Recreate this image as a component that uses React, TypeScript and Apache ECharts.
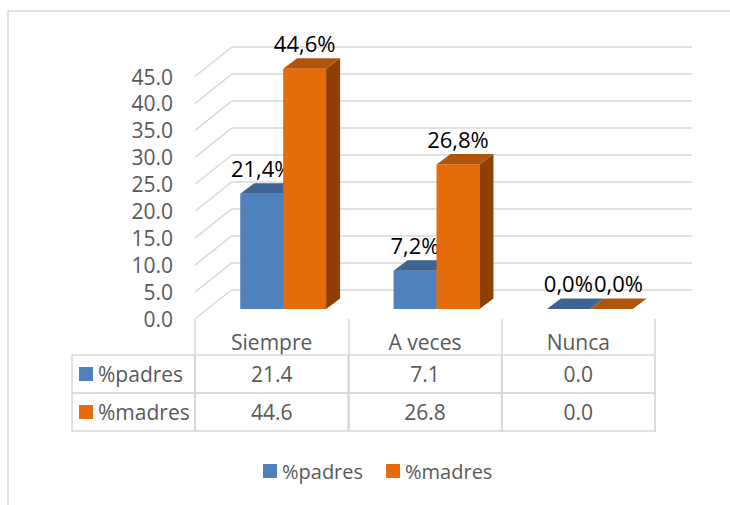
import React, { useEffect, useRef } from "react";
import * as echarts from "echarts";

const categories = ["Siempre", "A veces", "Nunca"];
const seriesNames = ["%padres", "%madres"];
const padres = [21.4, 7.1, 0.0];
const madres = [44.6, 26.8, 0.0];
const padresLabels = ["21,4%", "7,2%", "0,0%"];
const madresLabels = ["44,6%", "26,8%", "0,0%"];
const yTicks = [0, 5, 10, 15, 20, 25, 30, 35, 40, 45];

const FONT = "'Open Sans', 'Noto Sans', sans-serif";
const GRID_COLOR = "#D9D9D9";
const TEXT_GRAY = "#595959";
const BLUE = { front: "#4F81BD", top: "#3C6391", side: "#2F5078" };
const ORANGE = { front: "#E46C0A", top: "#B35509", side: "#8F3F04" };
const LABEL_SIZE = 22;

// 3D projection constants (back wall -> front plane)
const DX = 37;
const DY = 29.5;
// bar front face relative to back wall
const BX = -25.5;
const BY = 19.5;
// bar depth
const DDX = 14;
const DDY = 10.5;
const BAR_FRAC = 0.28;
const HEADER_H = 36;
const ROW_H = 38;
const ROW_HEAD_W = 123;

function textWidth(t: string): number {
  try {
    const T: any = (echarts.graphic as any).Text;
    const el = new T({ style: { text: t, fontSize: LABEL_SIZE, fontFamily: FONT } });
    return el.getBoundingRect().width;
  } catch (e) {
    return t.length * 12;
  }
}

function barRender(
  sIdx: number,
  labels: string[],
  col: any,
  prevValues: number[] | null,
  prevLabels: string[] | null
) {
  return (params: any, api: any) => {
    const i = api.value(0);
    const v = api.value(1);
    const base = api.coord([i, 0]);
    const top = api.coord([i, v]);
    const band = api.size([1, 0])[0];
    const bw = band * BAR_FRAC;
    const x0 = base[0] + (sIdx === 0 ? -bw : 0) + BX;
    const y0 = base[1] + BY;
    const yt = top[1] + BY;
    let lx = x0 + bw / 2;
    const ly = yt - 26;
    if (prevValues && prevLabels) {
      // avoid overlapping the neighbouring series' label
      const pyt = api.coord([i, prevValues[i]])[1] + BY - 26;
      const pcx = base[0] - bw + BX + bw / 2;
      if (Math.abs(pyt - ly) < LABEL_SIZE) {
        const minC = pcx + (textWidth(prevLabels[i]) + textWidth(labels[i])) / 2 + 1;
        if (lx < minC) lx = minC;
      }
    }
    const children: any[] = [
      {
        type: "rect",
        shape: { x: x0, y: yt, width: bw, height: Math.max(0, y0 - yt) },
        style: { fill: col.front },
      },
      {
        type: "polygon",
        shape: {
          points: [
            [x0 + bw, yt],
            [x0 + bw + DDX, yt - DDY],
            [x0 + bw + DDX, y0 - DDY],
            [x0 + bw, y0],
          ],
        },
        style: { fill: col.side },
      },
      {
        type: "polygon",
        shape: {
          points: [
            [x0, yt],
            [x0 + bw, yt],
            [x0 + bw + DDX, yt - DDY],
            [x0 + DDX, yt - DDY],
          ],
        },
        style: { fill: col.top },
      },
      {
        type: "text",
        x: lx,
        y: ly,
        style: {
          text: labels[i],
          fill: "#000",
          fontSize: LABEL_SIZE,
          fontFamily: FONT,
          align: "center",
          verticalAlign: "middle",
        },
      },
    ];
    return { type: "group", children };
  };
}

export default function App() {
  const ref = useRef<HTMLDivElement>(null);
  useEffect(() => {
    if (!ref.current) return;
    const chart = echarts.init(ref.current, null, { renderer: "svg" });
    const tableData: any[] = [];
    [padres, madres].forEach((arr, r) => {
      arr.forEach((v, c) => tableData.push([c, v, r]));
    });
    const option: any = {
      animation: false,
      backgroundColor: "#fff",
      graphic: [
        {
          type: "rect",
          shape: { x: 8, y: 11, width: 780, height: 560 },
          style: { fill: "none", stroke: GRID_COLOR, lineWidth: 1.5 },
          silent: true,
        },
      ],
      legend: {
        data: seriesNames,
        left: 263,
        top: 461,
        padding: 0,
        icon: "rect",
        itemWidth: 14,
        itemHeight: 14,
        itemGap: 23,
        textStyle: { fontSize: 20, color: TEXT_GRAY, fontFamily: FONT },
      },
      grid: [
        { left: 232, top: 47, width: 460, height: 242.5 },
        { left: 232 - DX, top: 47 + DY, width: 460, height: 242.5 },
      ],
      xAxis: [
        {
          type: "category",
          gridIndex: 0,
          data: categories,
          show: false,
        },
        {
          type: "category",
          gridIndex: 1,
          data: categories,
          axisLine: { show: false },
          axisTick: {
            show: true,
            length: HEADER_H + 2 * ROW_H + 1,
            lineStyle: { color: GRID_COLOR, width: 1.5 },
          },
          axisLabel: {
            fontSize: 21,
            color: TEXT_GRAY,
            fontFamily: FONT,
            margin: 11,
            lineHeight: 24,
          },
          splitLine: { show: false },
        },
      ],
      yAxis: [
        {
          type: "value",
          gridIndex: 0,
          min: 0,
          max: 45,
          interval: 5,
          axisLabel: { show: false },
          axisLine: { show: false },
          axisTick: { show: false },
          splitLine: { show: true, lineStyle: { color: GRID_COLOR, width: 1.5 } },
        },
        {
          type: "value",
          gridIndex: 1,
          min: 0,
          max: 45,
          interval: 5,
          axisLabel: {
            fontSize: 21,
            color: TEXT_GRAY,
            fontFamily: FONT,
            margin: 22,
            formatter: (v: number) => v.toFixed(1),
          },
          axisLine: { show: false },
          axisTick: { show: false },
          splitLine: { show: false },
        },
      ],
      series: [
        {
          type: "custom",
          name: "walls",
          xAxisIndex: 0,
          yAxisIndex: 0,
          silent: true,
          clip: false,
          data: yTicks.map((v) => [0, v]),
          renderItem: (params: any, api: any) => {
            const y = api.coord([0, api.value(1)])[1];
            const x = params.coordSys.x;
            return {
              type: "line",
              shape: { x1: x, y1: y, x2: x - DX, y2: y + DY },
              style: { stroke: GRID_COLOR, lineWidth: 1.5 },
            };
          },
        },
        {
          type: "custom",
          name: seriesNames[0],
          xAxisIndex: 0,
          yAxisIndex: 0,
          clip: false,
          itemStyle: { color: BLUE.front },
          data: padres.map((v, i) => [i, v]),
          renderItem: barRender(0, padresLabels, BLUE, null, null),
        },
        {
          type: "custom",
          name: seriesNames[1],
          xAxisIndex: 0,
          yAxisIndex: 0,
          clip: false,
          itemStyle: { color: ORANGE.front },
          data: madres.map((v, i) => [i, v]),
          renderItem: barRender(1, madresLabels, ORANGE, padres, padresLabels),
        },
        {
          type: "custom",
          name: "table",
          xAxisIndex: 1,
          yAxisIndex: 1,
          clip: false,
          silent: true,
          encode: { x: 0, y: 1 },
          data: tableData,
          renderItem: (params: any, api: any) => {
            const c = api.value(0);
            const v = api.value(1);
            const r = api.value(2);
            const cs = params.coordSys;
            const cx = api.coord([c, 0])[0];
            const band = api.size([1, 0])[0];
            const yTop = cs.y + cs.height + HEADER_H + r * ROW_H;
            const children: any[] = [
              {
                type: "rect",
                shape: { x: cx - band / 2, y: yTop, width: band, height: ROW_H },
                style: { fill: "none", stroke: GRID_COLOR, lineWidth: 1.5 },
              },
              {
                type: "text",
                x: cx,
                y: yTop + ROW_H / 2,
                style: {
                  text: v.toFixed(1),
                  fill: TEXT_GRAY,
                  fontSize: 21,
                  fontFamily: FONT,
                  align: "center",
                  verticalAlign: "middle",
                },
              },
            ];
            if (c === 0) {
              const hx = cs.x - ROW_HEAD_W;
              children.push(
                {
                  type: "rect",
                  shape: { x: hx, y: yTop, width: ROW_HEAD_W, height: ROW_H },
                  style: { fill: "none", stroke: GRID_COLOR, lineWidth: 1.5 },
                },
                {
                  type: "rect",
                  shape: { x: hx + 7, y: yTop + ROW_H / 2 - 7, width: 14, height: 14 },
                  style: { fill: r === 0 ? BLUE.front : ORANGE.front },
                },
                {
                  type: "text",
                  x: hx + 26,
                  y: yTop + ROW_H / 2,
                  style: {
                    text: seriesNames[r],
                    fill: TEXT_GRAY,
                    fontSize: 21,
                    fontFamily: FONT,
                    align: "left",
                    verticalAlign: "middle",
                  },
                }
              );
            }
            return { type: "group", children };
          },
        },
      ],
    };
    chart.setOption(option);
    return () => chart.dispose();
  }, []);
  return (
    <div
      ref={ref}
      style={{ position: "fixed", left: 0, top: 0, width: 730, height: 505 }}
    />
  );
}
